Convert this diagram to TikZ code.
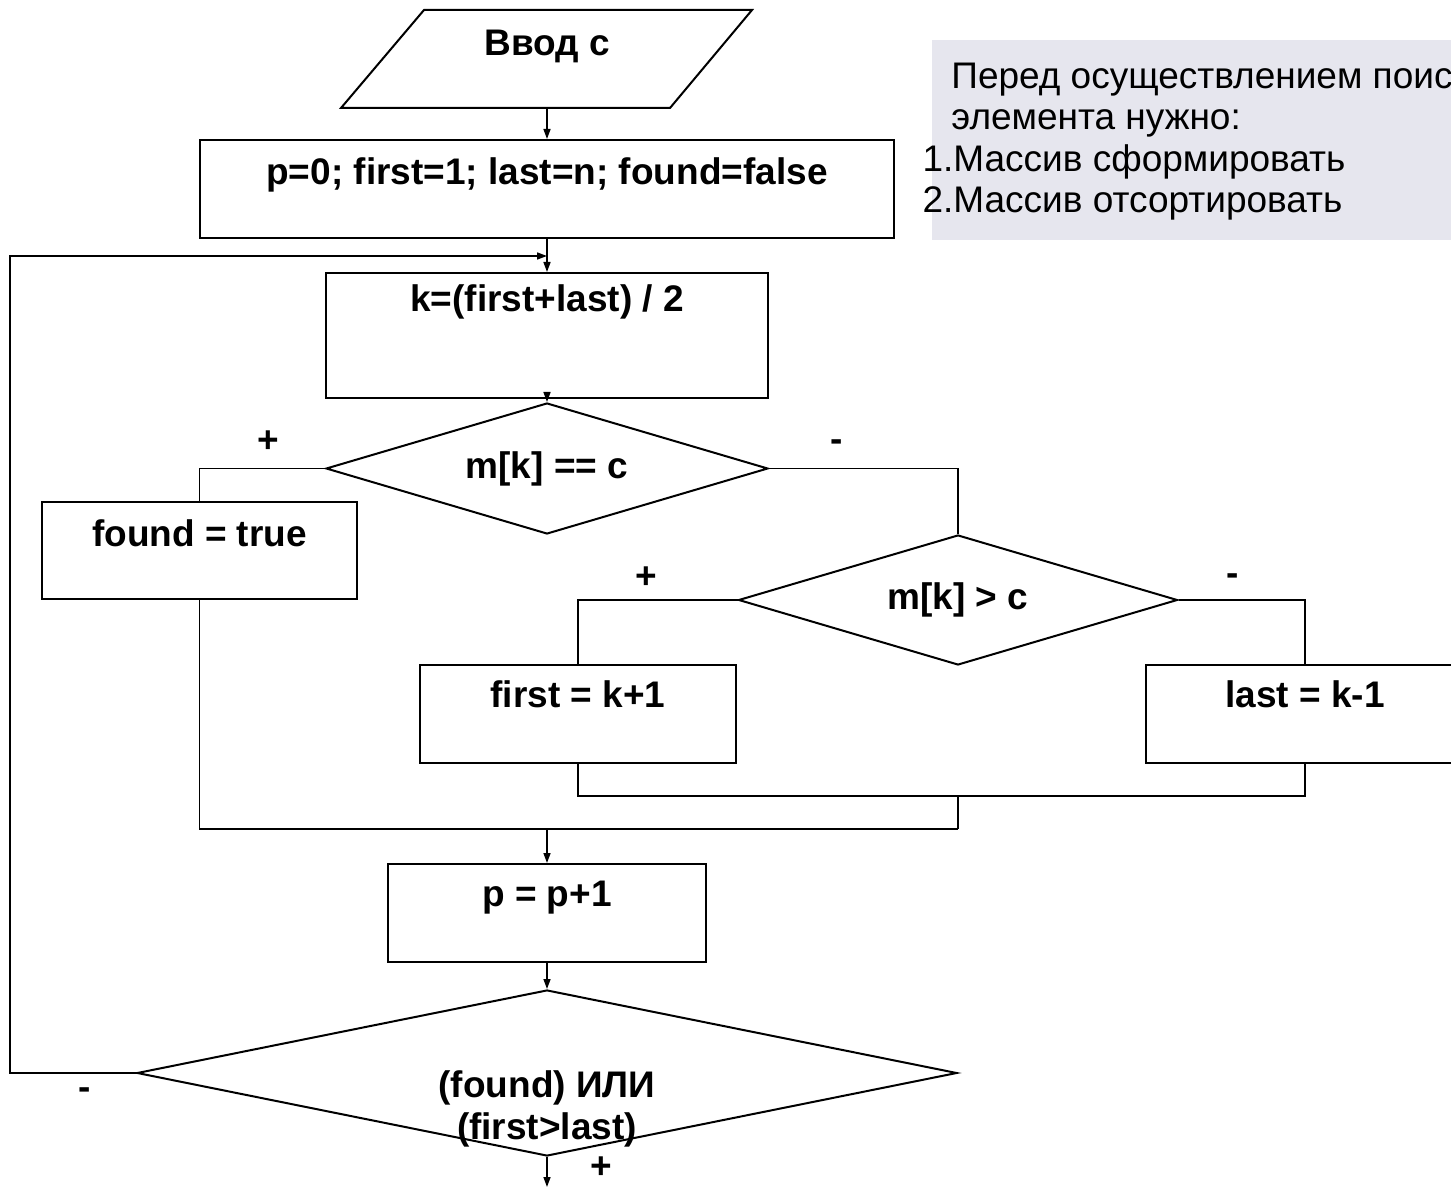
\documentclass[tikz,border=0pt]{standalone}
\usepackage{fontspec}
\setmainfont{Liberation Sans}
\usetikzlibrary{arrows.meta,shapes.geometric}
\definecolor{notegray}{RGB}{230,230,238}
\begin{document}
\begin{tikzpicture}[x=0.5pt,y=-0.5pt,
  blk/.style={draw, line width=1pt, inner sep=0pt, font=\bfseries\fontsize{18.5}{21}\selectfont},
  dia/.style={draw, diamond, shape aspect=3.4, line width=1pt, inner sep=0pt, font=\bfseries\fontsize{18.5}{21}\selectfont},
  btxt/.style={inner sep=0pt, font=\bfseries\fontsize{18.5}{21}\selectfont},
  sgn/.style={inner sep=0pt, font=\bfseries\fontsize{18.5}{21}\selectfont},
  ntxt/.style={inner sep=0pt, anchor=base west, font=\fontsize{18.5}{21}\selectfont},
  ln/.style={line width=0.75pt},
  arr/.style={ln, -{Triangle[length=5pt,width=3.5pt]}}
]
\useasboundingbox (0,0) rectangle (1451,1187);
\clip (0,0) rectangle (1451,1187);

% note
\node[fill=notegray, inner sep=0pt, minimum width=300pt, minimum height=100pt, anchor=north west] (note) at (932,40) {};
\node[ntxt] (n1) at (951,89) {Перед осуществлением поиска};
\node[ntxt] (n2) at (951,130) {элемента нужно:};
\node[ntxt] (n3) at (953,172) {\llap{1.}Массив сформировать};
\node[ntxt] (n4) at (953,213) {\llap{2.}Массив отсортировать};

% input
\draw[line width=1pt] (424,10) -- (752,10) -- (670,108) -- (341,108) -- cycle;
\node[btxt, anchor=base] (inp) at (547,56) {Ввод с};
\coordinate (inpB) at (547,108);

% blocks
\node[blk, minimum width=347pt, text height=22.5pt, text depth=26.5pt] (b1) at (547,189) {p=0; first=1; last=n; found=false};
\node[blk, minimum width=221pt, text height=19.5pt, text depth=43pt] (bk) at (547,335.5) {k=(first+last) / 2};
\node[dia, minimum width=221pt, minimum height=65.5pt] (d1) at (547,468.5) {m[k] == c};
\node[blk, minimum width=157.5pt, text height=22pt, text depth=26.5pt] (bf) at (199.5,550.5) {found = true};
\node[dia, minimum width=219.5pt, minimum height=65pt] (d2) at (958,600) {m[k] > c};
\node[blk, minimum width=158pt, text height=21pt, text depth=28pt] (bfirst) at (578,714) {first = k+1};
\node[blk, minimum width=159pt, text height=21pt, text depth=28pt] (blast) at (1305,714) {last = k-1};
\node[blk, minimum width=159pt, text height=21pt, text depth=28pt] (bp) at (547,913) {p = p+1};
\node[dia, minimum width=410pt, minimum height=83pt] (d3) at (547,1073) {};
\node[btxt, align=center] (d3t) at (547,1109) {(found) ИЛИ\\(first>last)};

% signs
\node[sgn] (s1) at (268,442) {+};
\node[sgn] (s2) at (837,446) {-};
\node[sgn] (s3) at (646,578) {+};
\node[sgn] (s4) at (1233,580) {-};
\node[sgn] (s5) at (85,1094) {-};
\node[sgn] (s6) at (601,1168) {+};

% coordinates
\coordinate (jn) at (547,256);
\coordinate (lx) at (10,256);
\coordinate (m1) at (958,796);
\coordinate (m2) at (958,829);
\coordinate (m3) at (547,829);
\coordinate (endc) at (547,1187);

% connectors
\draw[arr] (inpB) -- (b1.north);
\draw[arr] (b1.south) -- (bk.north);
\draw[arr] (d3.west) -| (lx) -- (jn);
\draw[arr] (bk.south) -- (d1.north);
\draw[ln] (d1.west) -| (bf.north);
\draw[ln] (d1.east) -| (d2.north);
\draw[ln] (d2.west) -| (bfirst.north);
\draw[ln] (d2.east) -| (blast.north);
\draw[ln] (bfirst.south) |- (m1) -| (blast.south);
\draw[ln] (m1) -- (m2);
\draw[ln] (bf.south) |- (m2);
\draw[arr] (m3) -- (bp.north);
\draw[arr] (bp.south) -- (d3.north);
\draw[arr] (d3.south) -- (endc);
\end{tikzpicture}
\end{document}
